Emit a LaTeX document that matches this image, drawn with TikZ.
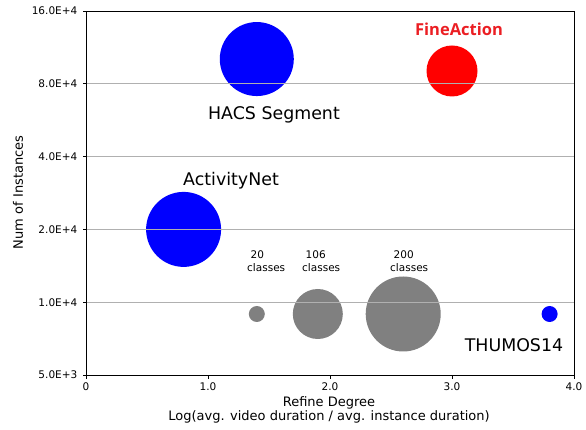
\documentclass[tikz,border=0pt]{standalone}
\usepackage{fontspec}
\setmainfont{DejaVu Sans}
\newfontfamily\titlefont{Open Sans}
\definecolor{gridgray}{RGB}{176,176,176}
\definecolor{bubblegray}{RGB}{128,128,128}
\definecolor{titlered}{RGB}{235,30,35}
\tikzset{
  bubble/.style={circle, inner sep=0pt, draw=none},
  ticklabel/.style={font=\fontsize{10.5}{12}\selectfont, inner sep=0pt},
  axislabel/.style={font=\fontsize{13}{14.5}\selectfont, inner sep=0pt, align=center},
  setname/.style={font=\fontsize{17.4}{20}\selectfont, inner sep=0pt},
  classlabel/.style={font=\fontsize{10.5}{13}\selectfont, inner sep=0pt, align=left, anchor=west},
}

\begin{document}
\begin{tikzpicture}[x=122pt, y=72.8pt]
% Page is 586 x 429, plot origin sits 86 from the left and 54 from the bottom
\useasboundingbox (-86pt,-54pt) rectangle (500pt,375pt);
% Corners of the plot area (y is log2 of instances / 5000)
\coordinate (o) at (0,0);
\coordinate (c) at (4,5);
% Bubbles, one per dataset
\node [bubble, fill=blue, minimum size=74pt] (hacs) at (1.4,4.34) {};
\node [bubble, fill=red, minimum size=51pt] (fine) at (3.0,4.176) {};
\node [bubble, fill=blue, minimum size=75pt] (anet) at (0.8,2.0) {};
\node [bubble, fill=bubblegray, minimum size=16pt] (c20) at (1.4,0.838) {};
\node [bubble, fill=bubblegray, minimum size=50pt] (c106) at (1.9,0.838) {};
\node [bubble, fill=bubblegray, minimum size=75pt] (c200) at (2.6,0.838) {};
\node [bubble, fill=blue, minimum size=16pt] (thumos) at (3.8,0.838) {};
% Horizontal grid lines go over the bubbles
\foreach \y in {1,...,4}
  \draw[gridgray, line width=0.8pt] (0,\y) -- (4,\y);
% Frame and ticks
\draw[line width=0.8pt] (o) rectangle (c);
\foreach \x/\lab in {0/0,1/1.0,2/2.0,3/3.0,4/4.0} {
  \draw[line width=0.8pt] (\x,0) -- ++(0,-3.5pt);
  \node[ticklabel, anchor=north] (xt\x) at ([yshift=-8pt]\x,0) {\lab};
}
\foreach \y/\lab in {0/5.0E+3,1/1.0E+4,2/2.0E+4,3/4.0E+4,4/8.0E+4,5/16.0E+4} {
  \draw[line width=0.8pt] (0,\y) -- ++(-3.5pt,0);
  \node[ticklabel, anchor=east] (yt\y) at ([xshift=-8.5pt]0,\y) {\lab};
}
% Axis titles
\node[axislabel, rotate=90] (ylabel) at (-68pt,182.5pt) {Num of Instances};
\node[axislabel] (xlabel) at (243pt,-35pt) {Refine Degree\\Log(avg. video duration / avg. instance duration)};
% Dataset names
\node[setname] (hacsname) at (188pt,260pt) {HACS Segment};
\node[setname] (anetname) at (145pt,194pt) {ActivityNet};
\node[setname] (thumosname) at (428pt,30pt) {THUMOS14};
\node[inner sep=0pt, text=titlered, font=\titlefont\bfseries\fontsize{16.5}{18}\selectfont] (finename) at (373pt,346pt) {FineAction};
% Class counts above the gray bubbles
\node[classlabel] (l20) at (161pt,114pt) {\hspace*{3.5pt}20\\classes};
\node[classlabel] (l106) at (216pt,114pt) {\hspace*{3.5pt}106\\classes};
\node[classlabel] (l200) at (304pt,114pt) {\hspace*{3.5pt}200\\classes};
\end{tikzpicture}
\end{document}
